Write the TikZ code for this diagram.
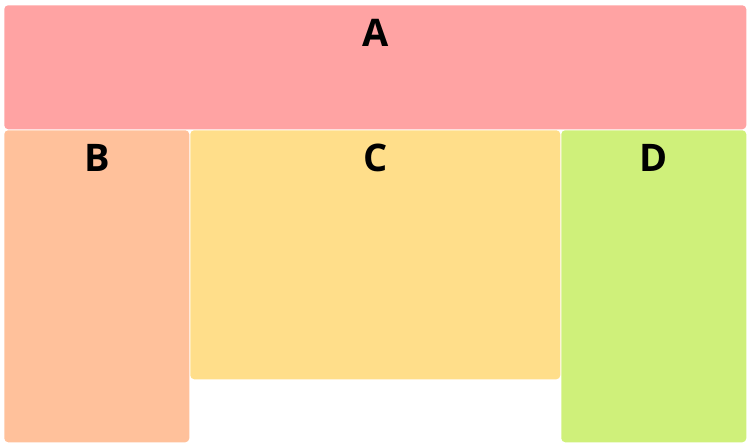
\documentclass[tikz,border=0pt]{standalone}
\usepackage{fontspec}
\setmainfont{Open Sans}
\usetikzlibrary{positioning}

\definecolor{colA}{HTML}{FFA3A3}
\definecolor{colB}{HTML}{FFC19B}
\definecolor{colC}{HTML}{FFDE8A}
\definecolor{colD}{HTML}{CFF07A}

\begin{document}
\begin{tikzpicture}[
    x=0.75pt, y=-0.75pt,
    panel/.style={draw=none, rounded corners=3pt, inner sep=0pt, anchor=north west},
    tag/.style={font=\bfseries\fontsize{28.5}{32}\selectfont, inner sep=0pt}
]
    \useasboundingbox (0,0) rectangle (748,446);

    % boxes
    \node[panel, fill=colA, minimum width=556.5pt, minimum height=93pt]  (boxA) at (4,5)     {};
    \node[panel, fill=colB, minimum width=138.75pt, minimum height=234pt] (boxB) at (4,130)   {};
    \node[panel, fill=colC, minimum width=277.5pt, minimum height=186.75pt] (boxC) at (190,130) {};
    \node[panel, fill=colD, minimum width=138.75pt, minimum height=234pt] (boxD) at (561,130) {};

    % labels
    \node[tag, below=10.5pt of boxA.north] (tagA) {A};
    \node[tag, below=10.5pt of boxB.north] (tagB) {B};
    \node[tag, below=10.5pt of boxC.north] (tagC) {C};
    \node[tag, below=10.5pt of boxD.north] (tagD) {D};
\end{tikzpicture}
\end{document}
